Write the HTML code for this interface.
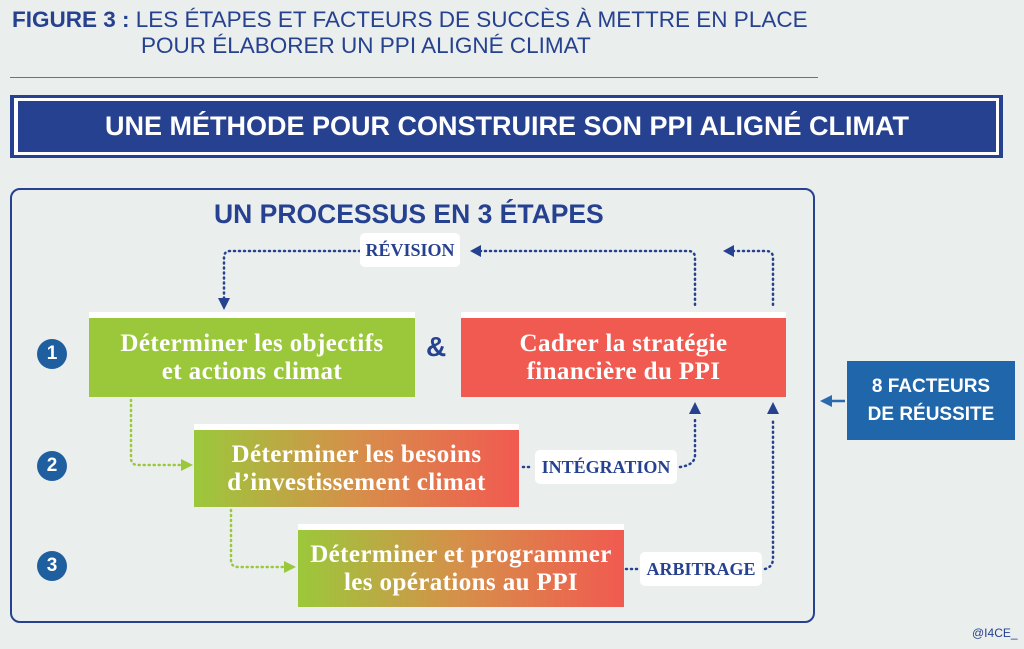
<!DOCTYPE html>
<html><head><meta charset="utf-8"><style>
body{margin:0;width:1024px;height:649px;background:#eaeeed;position:relative;overflow:hidden;font-family:"Liberation Sans",sans-serif}
.a{position:absolute}
.t{font-size:22.5px;color:#26418f;white-space:nowrap;line-height:26px}
.box{position:absolute;border-top:6px solid #fff;color:#fff;font-family:"Liberation Serif",serif;font-size:25px;font-weight:bold;text-align:center;line-height:28px;display:flex;align-items:center;justify-content:center;box-sizing:border-box;letter-spacing:.4px;white-space:nowrap}
.lab{position:absolute;background:#fff;border-radius:5px;color:#26418f;font-weight:bold;font-size:18px;display:flex;align-items:center;justify-content:center;font-family:"Liberation Serif",serif}
.num{position:absolute;width:30px;height:30px;border-radius:50%;background:#1f5fa0;color:#fff;font-weight:bold;font-size:19px;display:flex;align-items:center;justify-content:center}
</style></head><body>
<div class="a t" style="left:12px;top:7px"><b>FIGURE 3 :</b> LES ÉTAPES ET FACTEURS DE SUCCÈS À METTRE EN PLACE</div>
<div class="a t" style="left:141px;top:33px">POUR ÉLABORER UN PPI ALIGNÉ CLIMAT</div>
<div class="a" style="left:10px;top:77px;width:808px;height:1px;background:#5a72b5"></div>
<div class="a" style="left:10px;top:95px;width:993px;height:63px;background:#26418f"></div>
<div class="a" style="left:14px;top:98px;width:985px;height:57px;background:#fff"></div>
<div class="a" style="left:18px;top:101px;width:978px;height:51px;background:#26418f;color:#fff;font-weight:bold;font-size:27px;display:flex;align-items:center;justify-content:center">UNE MÉTHODE POUR CONSTRUIRE SON PPI ALIGNÉ CLIMAT</div>
<div class="a" style="left:10px;top:188px;width:801px;height:431px;border:2px solid #26418f;border-radius:10px"></div>
<div class="a" style="left:214px;top:199px;color:#26418f;font-weight:bold;font-size:26.5px">UN PROCESSUS EN 3 ÉTAPES</div>
<div class="num" style="left:37px;top:339px">1</div>
<div class="num" style="left:37px;top:451px">2</div>
<div class="num" style="left:37px;top:551px">3</div>
<div class="box" style="left:89px;top:312px;width:326px;height:85px;background:#9bc83b">Déterminer les objectifs<br>et actions climat</div>
<div class="a" style="left:426px;top:331px;color:#26418f;font-weight:bold;font-size:28px">&amp;</div>
<div class="box" style="left:461px;top:312px;width:325px;height:85px;background:#f15a50">Cadrer la stratégie<br>financière du PPI</div>
<div class="box" style="left:194px;top:424px;width:325px;height:83px;background:linear-gradient(90deg,#9bc83b,#d68f4a 50%,#f15a50)">Déterminer les besoins<br>d’investissement climat</div>
<div class="box" style="left:298px;top:524px;width:326px;height:83px;background:linear-gradient(90deg,#9bc83b,#d68f4a 50%,#f15a50)">Déterminer et programmer<br>les opérations au PPI</div>
<svg class="a" style="left:0;top:0" width="1024" height="649">
<g fill="none" stroke-width="2.5" stroke-dasharray="1 4" stroke-linecap="round">
<path d="M360 251 H230 Q224 251 224 258 V300" stroke="#26418f"/>
<path d="M480 251 H688 Q695 251 695 258 V308" stroke="#26418f"/>
<path d="M733 251 H766 Q773 251 773 258 V308" stroke="#26418f"/>
<path d="M523 467 H532" stroke="#26418f"/>
<path d="M680 467 Q695 465 695 455 V418" stroke="#26418f"/>
<path d="M626 569 H638" stroke="#26418f"/>
<path d="M765 569 Q773 567 773 558 V418" stroke="#26418f"/>
<path d="M131 400 V458 Q131 465 138 465 H180" stroke="#9bc83b"/>
<path d="M231 510 V560 Q231 567 238 567 H284" stroke="#9bc83b"/>
</g>
<g fill="#26418f">
<path d="M218 298 L230 298 L224 310Z"/>
<path d="M470 251 L481 245 L481 257Z"/>
<path d="M723 251 L734 245 L734 257Z"/>
<path d="M689 414 L701 414 L695 402Z"/>
<path d="M767 414 L779 414 L773 402Z"/>
</g>
<g fill="#9bc83b"><path d="M193 465 L181 459 L181 471Z"/><path d="M296 567 L284 561 L284 573Z"/></g>
<path d="M845 401 H828" stroke="#2a6aad" stroke-width="2.5"/><path d="M820 401 L832 395 L832 407Z" fill="#2a6aad"/>
</svg>
<div class="lab" style="left:360px;top:233px;width:100px;height:34px">RÉVISION</div>
<div class="lab" style="left:535px;top:450px;width:142px;height:34px">INTÉGRATION</div>
<div class="lab" style="left:640px;top:552px;width:122px;height:34px">ARBITRAGE</div>
<div class="a" style="left:847px;top:361px;width:168px;height:79px;background:#1f66ab;color:#fff;font-weight:bold;font-size:19px;line-height:28px;text-align:center;display:flex;align-items:center;justify-content:center">8 FACTEURS<br>DE RÉUSSITE</div>
<div class="a" style="left:972px;top:626px;color:#26418f;font-size:12px">@I4CE_</div>
</body></html>
